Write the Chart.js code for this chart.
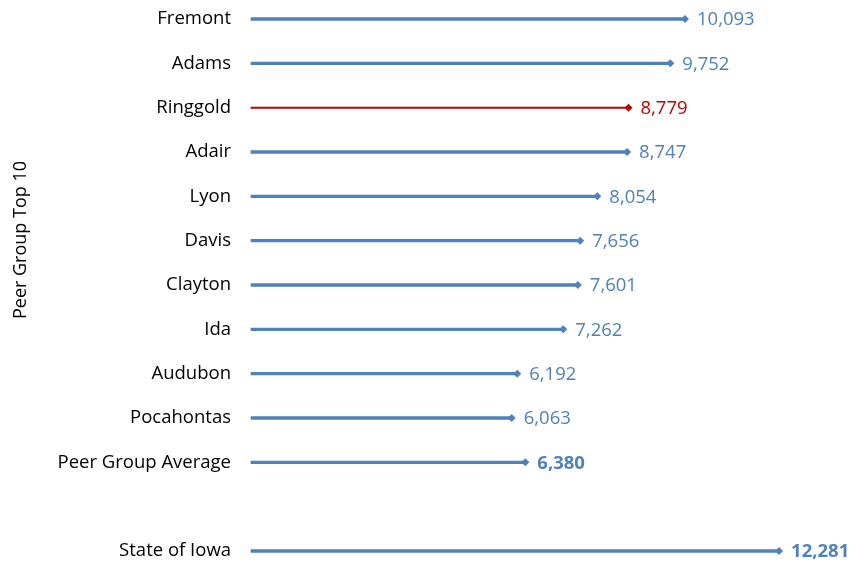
<!DOCTYPE html>
<html>
<head>
<meta charset="utf-8">
<script src="https://cdn.jsdelivr.net/npm/chart.js@4.4.0/dist/chart.umd.min.js"></script>
<style>
  html, body { margin: 0; padding: 0; background: #fff; }
  #wrap { width: 860px; height: 561px; }
</style>
</head>
<body>
<div id="wrap"><canvas id="chart"></canvas></div>
<script>
const counties = ['Fremont', 'Adams', 'Ringgold', 'Adair', 'Lyon', 'Davis', 'Clayton', 'Ida', 'Audubon', 'Pocahontas', 'Peer Group Average', '', 'State of Iowa']
const values = [10093, 9752, 8779, 8747, 8054, 7656, 7601, 7262, 6192, 6063, 6380, null, 12281]
const highlight = 'Ringgold'
const boldRows = ['Peer Group Average', 'State of Iowa']

const blue = '#4f81bd'
const red = '#c00000'
const font = "'Open Sans', Lato, sans-serif"

const blueVals = values.map((v, i) => counties[i] === highlight ? null : v)
const redVals = values.map((v, i) => counties[i] === highlight ? v : null)
const pointColors = counties.map(c => c === highlight ? red : blue)

// value text next to each diamond, plus the rotated axis title
const labelPlugin = {
    id: 'valueLabels',
    afterDatasetsDraw(chart) {
        const ctx = chart.ctx
        const meta = chart.getDatasetMeta(2)
        ctx.save()
        ctx.textBaseline = 'middle'
        ctx.textAlign = 'left'
        meta.data.forEach((pt, i) => {
            if (values[i] == null) return
            const bold = boldRows.includes(counties[i])
            ctx.font = (bold ? 'bold ' : '') + '18.5px ' + font
            ctx.fillStyle = counties[i] === highlight ? red : blue
            ctx.fillText(values[i].toLocaleString('en-US'), pt.x + 12, pt.y + 1)
        })
        ctx.translate(21, 240)
        ctx.rotate(-Math.PI / 2)
        ctx.textAlign = 'center'
        ctx.font = '18px ' + font
        ctx.fillStyle = '#000'
        ctx.fillText('Peer Group Top 10', 0, 0)
        ctx.restore()
    }
}

new Chart(document.getElementById('chart'), {
    type: 'bar',
    data: {
        labels: counties,
        datasets: [{
            data: blueVals,
            backgroundColor: blue,
            barThickness: 2.6,
            grouped: false,
            clip: false
        }, {
            data: redVals,
            backgroundColor: red,
            barThickness: 1.4,
            grouped: false,
            clip: false
        }, {
            type: 'line',
            data: values,
            showLine: false,
            clip: false,
            pointStyle: 'rectRot',
            pointRadius: 4,
            pointBackgroundColor: pointColors,
            pointBorderColor: pointColors,
            pointBorderWidth: 0
        }]
    },
    plugins: [labelPlugin],
    options: {
        indexAxis: 'y',
        responsive: true,
        maintainAspectRatio: false,
        animation: false,
        layout: { padding: { top: 19, bottom: 10, left: 0, right: 0 } },
        plugins: {
            legend: { display: false },
            tooltip: { enabled: false }
        },
        scales: {
            x: {
                display: false,
                min: 0,
                max: 14070
            },
            y: {
                offset: false,
                grid: { display: false, drawTicks: false },
                border: { display: false },
                ticks: {
                    color: '#000',
                    padding: 20,
                    font: { family: font, size: 18.5 }
                },
                afterFit(scale) {
                    scale.width = 251
                    scale.paddingTop = 0
                    scale.paddingBottom = 0
                }
            }
        }
    }
})
</script>
</body>
</html>
